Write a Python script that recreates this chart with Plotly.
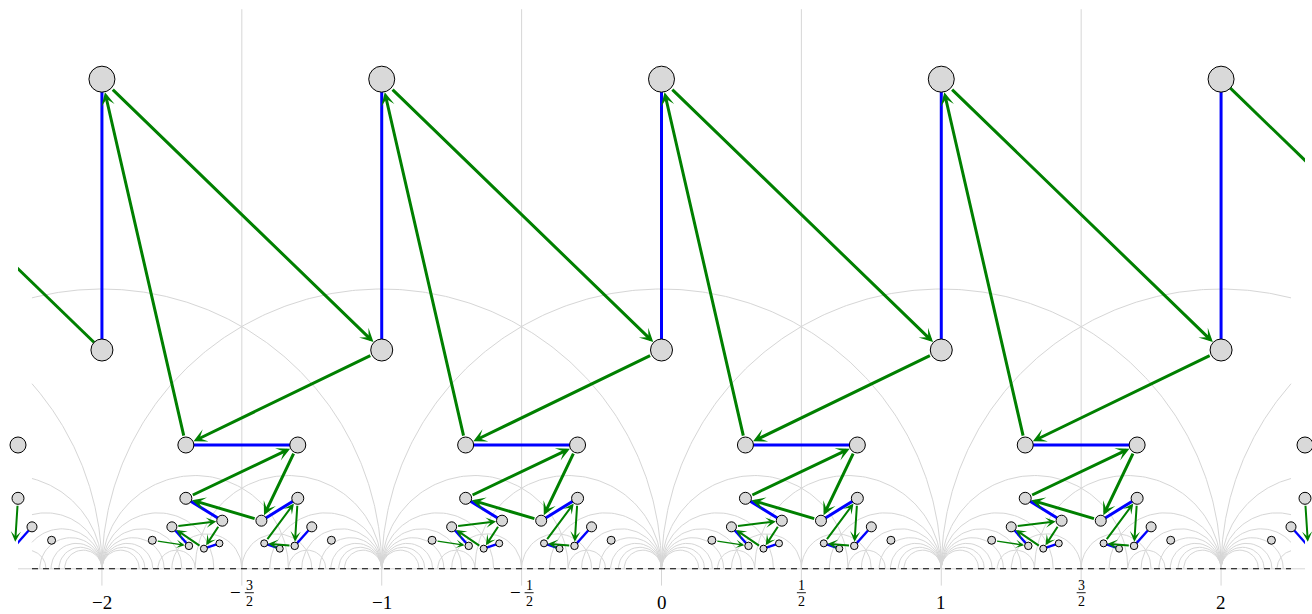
import math
from fractions import Fraction
import plotly.graph_objects as go

# ---------------- data ----------------
# node types inside one unit period: offset in x, height, marker diameter (px)
NODE_NAMES = ["A", "B", "C", "C'", "D", "D'", "E", "E'", "F", "F'",
              "G", "G'", "H", "J'", "I", "I'", "J", "H'"]
NODE_DX = [0.000, 0.000, 0.300, 0.700, 0.300, 0.700, 0.430, 0.570, 0.250, 0.750,
           0.180, 0.820, 0.311, 0.689, 0.3645, 0.6355, 0.420, 0.580]
NODE_H = [1.750, 0.782, 0.4425, 0.4425, 0.252, 0.252, 0.172, 0.172, 0.150, 0.150,
          0.102, 0.102, 0.082, 0.082, 0.072, 0.072, 0.091, 0.091]
NODE_SIZE = [26, 22, 16, 16, 12, 12, 11, 11, 10, 10,
             8, 8, 7.5, 7.5, 7, 7, 7, 7]

FULL_PERIODS = [-2, -1, 0, 1]
EXTRA_NODES = [("C'", -3), ("D'", -3), ("F'", -3), ("J'", -3), ("G'", -3),
               ("A", 2), ("B", 2), ("C", 2), ("D", 2), ("F", 2), ("G", 2), ("H", 2)]

# blue edges inside a period: (node, node, width)
BLUE_TEMPLATE = [("A", "B", 3), ("C", "C'", 3), ("D", "E", 3), ("E'", "D'", 3),
                 ("F", "H", 2.3), ("I", "J", 2.3), ("H'", "I'", 2.3), ("J'", "F'", 2.3)]
BLUE_EXTRA = [("A", 2, "B", 2, 3), ("J'", -3, "F'", -3, 2.3), ("F", 2, "H", 2, 2.3)]

# green arrows: (from, period shift, to, period shift, width)
GREEN_TEMPLATE = [("A", 0, "B", 1, 3), ("B", 1, "C", 0, 3), ("C", 0, "A", 0, 3),
                  ("D", 0, "C'", 0, 3), ("C'", 0, "E'", 0, 3), ("E'", 0, "D", 0, 3),
                  ("F", 0, "E", 0, 2), ("E", 0, "I", 0, 2), ("I", 0, "F", 0, 2),
                  ("G", 0, "H", 0, 1.4),
                  ("D'", 0, "J'", 0, 2), ("J'", 0, "H'", 0, 2), ("H'", 0, "D'", 0, 2)]
GREEN_EXTRA = [("D'", -3, "J'", -3, 2), ("D", 2, "H", 2, 2)]
# green edges running out of the frame (drawn without heads)
GREEN_OPEN = [("A", -3, "B", -2, 3), ("A", 2, "B", 3, 3)]

TICK_VALUES = [-2, -1.5, -1, -0.5, 0, 0.5, 1, 1.5, 2]
TICK_SIGNS = ["−", "−", "−", "−", "", "", "", "", ""]
TICK_NUMS = ["2", "3", "1", "1", "0", "1", "1", "3", "2"]
TICK_DENS = [None, "2", None, "2", None, "2", None, "2", None]

HALF_LINES = [-1.5, -0.5, 0.5, 1.5]
INT_TICKS = [-2, -1, 0, 1, 2]

# ---------------- style ----------------
X_RANGE = [-2.30, 2.30]
Y_RANGE = [-0.1615, 2.0329]
ARC_CLIP = 2.25
MAX_DEN = 15
MIN_RADIUS = 1 / 15.5
GRAY = "rgb(214,214,214)"
BLUE = "rgb(0,0,255)"
GREEN = "rgb(0,128,0)"
NODE_FILL = "rgb(217,217,217)"
ARROW_SIZE = {3: 0.75, 2: 0.85, 1.4: 1.0}


def node(name, period):
    i = NODE_NAMES.index(name)
    return period + NODE_DX[i], NODE_H[i], NODE_SIZE[i]


fig = go.Figure()

# ---- modular tessellation (geodesics joining p/q, r/s with |ps-qr| = 2) ----
fr = set()
for q in range(1, MAX_DEN + 1):
    for p in range(-4 * q, 4 * q + 1):
        if math.gcd(p, q) == 1:
            fr.add(Fraction(p, q))
fr = sorted(fr)
ax_, ay_ = [], []
for i, a in enumerate(fr):
    for b in fr[i + 1:]:
        if abs(a.numerator * b.denominator - a.denominator * b.numerator) != 2:
            continue
        c = float(a + b) / 2
        r = float(b - a) / 2
        if r < MIN_RADIUS:
            continue
        lo, hi = c - r, c + r
        if hi < -ARC_CLIP or lo > ARC_CLIP:
            continue
        t0, t1 = 0.0, math.pi
        if hi > ARC_CLIP:
            t0 = math.acos(max(-1, min(1, (ARC_CLIP - c) / r)))
        if lo < -ARC_CLIP:
            t1 = math.acos(max(-1, min(1, (-ARC_CLIP - c) / r)))
        n = max(24, int(300 * r))
        for k in range(n + 1):
            t = t0 + (t1 - t0) * k / n
            ax_.append(c + r * math.cos(t))
            ay_.append(r * math.sin(t))
        ax_.append(None)
        ay_.append(None)
fig.add_trace(go.Scatter(x=ax_, y=ay_, mode="lines", line=dict(color=GRAY, width=1),
                         hoverinfo="skip"))

vx, vy = [], []
for v in HALF_LINES:
    vx += [v, v, None]
    vy += [-0.06, 2.0, None]
for v in INT_TICKS:
    vx += [v, v, None]
    vy += [-0.06, 0, None]
vx += [-2.30, 2.30, None]
vy += [0, 0, None]
fig.add_trace(go.Scatter(x=vx, y=vy, mode="lines", line=dict(color=GRAY, width=1),
                         hoverinfo="skip"))

fig.add_trace(go.Scatter(x=[-ARC_CLIP, ARC_CLIP], y=[0, 0], mode="lines",
                         line=dict(color="black", width=1.1, dash="6px,5px"),
                         hoverinfo="skip"))

# ---- blue edges ----
blue = []
for p in FULL_PERIODS:
    for a, b, w in BLUE_TEMPLATE:
        blue.append((a, p, b, p, w))
blue += BLUE_EXTRA
for w in sorted(set(e[4] for e in blue)):
    xs, ys = [], []
    for a, pa, b, pb, ww in blue:
        if ww != w:
            continue
        x1, y1, _ = node(a, pa)
        x2, y2, _ = node(b, pb)
        xs += [x1, x2, None]
        ys += [y1, y2, None]
    fig.add_trace(go.Scatter(x=xs, y=ys, mode="lines", line=dict(color=BLUE, width=w),
                             hoverinfo="skip"))

# ---- open green edges (clipped by the frame) ----
gx, gy = [], []
for a, pa, b, pb, w in GREEN_OPEN:
    x1, y1, _ = node(a, pa)
    x2, y2, _ = node(b, pb)
    gx += [x1, x2, None]
    gy += [y1, y2, None]
fig.add_trace(go.Scatter(x=gx, y=gy, mode="lines", line=dict(color=GREEN, width=3),
                         hoverinfo="skip"))

# ---- nodes ----
nodes = [(n, p) for p in FULL_PERIODS for n in NODE_NAMES] + EXTRA_NODES
nx, ny, ns = [], [], []
for n, p in nodes:
    x, y, s = node(n, p)
    nx.append(x)
    ny.append(y)
    ns.append(s)
fig.add_trace(go.Scatter(x=nx, y=ny, mode="markers", cliponaxis=False,
                         marker=dict(size=ns, color=NODE_FILL, opacity=1,
                                     line=dict(color="black", width=1)),
                         hoverinfo="skip"))

# ---- green arrows ----
green = []
for p in FULL_PERIODS:
    for a, da, b, db, w in GREEN_TEMPLATE:
        green.append((a, p + da, b, p + db, w))
green += GREEN_EXTRA
annotations = []
for a, pa, b, pb, w in green:
    x1, y1, s1 = node(a, pa)
    x2, y2, s2 = node(b, pb)
    annotations.append(dict(x=x2, y=y2, ax=x1, ay=y1, xref="x", yref="y",
                            axref="x", ayref="y", text="", showarrow=True,
                            arrowhead=3, arrowsize=ARROW_SIZE.get(w, 0.8),
                            arrowwidth=w, arrowcolor=GREEN,
                            standoff=s2 / 2 + 0.5, startstandoff=s1 / 2))

# ---- tick labels ----
shapes = []
SERIF = "Liberation Serif, DejaVu Serif, serif"
for v, sg, num, den in zip(TICK_VALUES, TICK_SIGNS, TICK_NUMS, TICK_DENS):
    if den is None:
        annotations.append(dict(x=v, y=-0.122, xref="x", yref="y", text=sg + num,
                                showarrow=False, font=dict(family=SERIF, size=19, color="black")))
    else:
        fs = 0
        if sg:
            annotations.append(dict(x=v, y=-0.0854, xref="x", yref="y", text=sg,
                                    xshift=-6, showarrow=False,
                                    font=dict(family=SERIF, size=19, color="black")))
            fs = 7.5
        annotations.append(dict(x=v, y=-0.0605, xref="x", yref="y", text=num,
                                xshift=fs, showarrow=False,
                                font=dict(family=SERIF, size=14, color="black")))
        annotations.append(dict(x=v, y=-0.1155, xref="x", yref="y", text=den,
                                xshift=fs, showarrow=False,
                                font=dict(family=SERIF, size=14, color="black")))
        shapes.append(dict(type="line", xref="x", yref="y", xsizemode="pixel",
                           xanchor=v, x0=fs - 4.5, x1=fs + 4.5, y0=-0.0854, y1=-0.0854,
                           line=dict(color="black", width=0.9)))

fig.update_layout(
    width=1312, height=614,
    margin=dict(l=18, r=7, t=0, b=0),
    paper_bgcolor="white", plot_bgcolor="white",
    showlegend=False,
    xaxis=dict(range=X_RANGE, visible=False, fixedrange=True),
    yaxis=dict(range=Y_RANGE, visible=False, fixedrange=True),
    annotations=annotations,
    shapes=shapes,
)

fig.write_html("out.html", config={"displayModeBar": False},
               post_script="document.body.style.margin='0';")
